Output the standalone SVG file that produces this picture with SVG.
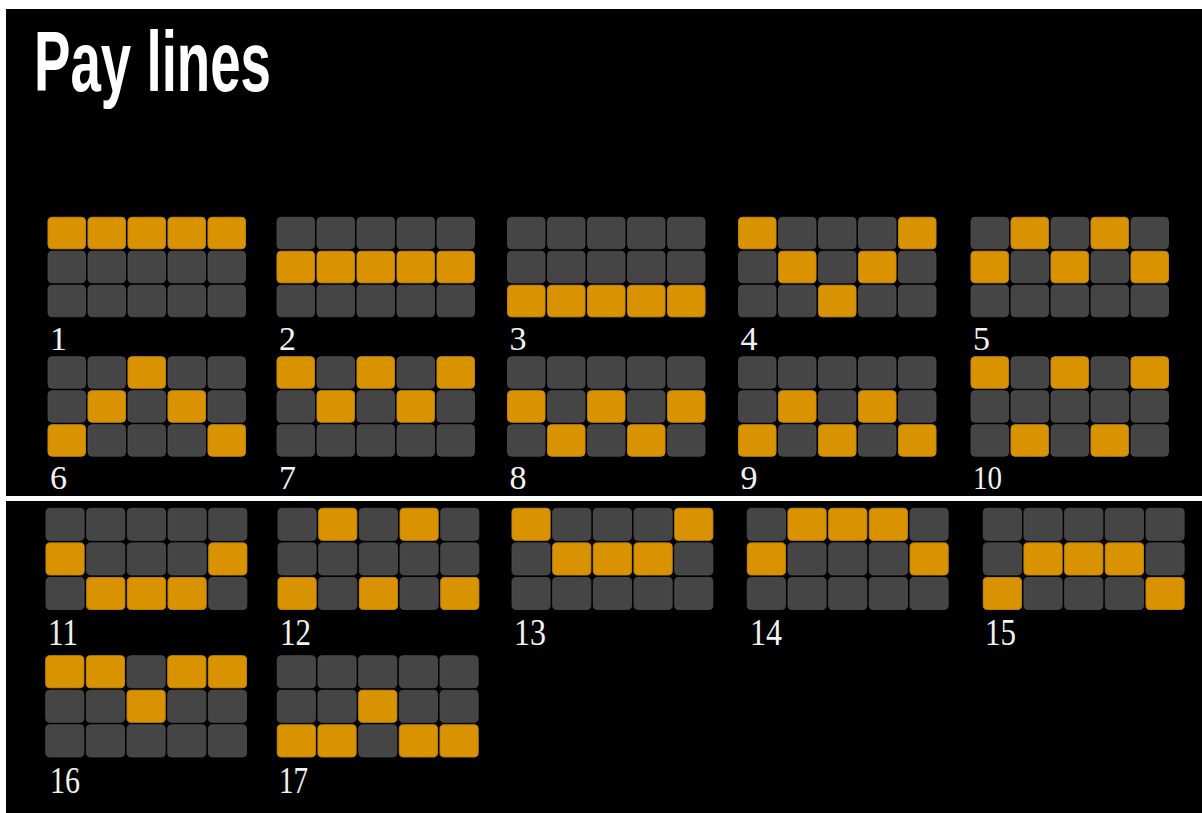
<svg xmlns="http://www.w3.org/2000/svg" xmlns:xlink="http://www.w3.org/1999/xlink" width="1202" height="813" viewBox="0 0 1202 813">
<style>
.g{fill:#454545;stroke:#4f4f4f;stroke-width:0.8}
.o{fill:#d99200;stroke:#c98500;stroke-width:0.8}
.lbl{font-family:"Liberation Serif",serif;fill:#f2f2f2;font-size:34px}
.lbl2{font-family:"Liberation Serif",serif;fill:#f2f2f2;font-size:37px}
.title{font-family:"Liberation Sans",sans-serif;font-weight:bold;fill:#ffffff;font-size:86px}
</style>
<defs>
<rect id="c" class="g" width="37.5" height="31.5" rx="4"/>
<rect id="o" class="o" width="37.5" height="31.5" rx="4"/>
<g id="grid">
<use href="#c" x="0" y="0"/><use href="#c" x="40" y="0"/><use href="#c" x="80" y="0"/><use href="#c" x="120" y="0"/><use href="#c" x="160" y="0"/>
<use href="#c" x="0" y="34"/><use href="#c" x="40" y="34"/><use href="#c" x="80" y="34"/><use href="#c" x="120" y="34"/><use href="#c" x="160" y="34"/>
<use href="#c" x="0" y="68"/><use href="#c" x="40" y="68"/><use href="#c" x="80" y="68"/><use href="#c" x="120" y="68"/><use href="#c" x="160" y="68"/>
</g>
</defs>
<rect x="0" y="0" width="1202" height="813" fill="#ffffff"/>
<rect x="6" y="9" width="1196" height="804" fill="#000000"/>
<text class="title" x="34" y="91" textLength="237" lengthAdjust="spacingAndGlyphs">Pay lines</text>

<g id="line1" transform="translate(48,217.3)"><use href="#grid"/>
<use href="#o" x="0" y="0"/><use href="#o" x="40" y="0"/><use href="#o" x="80" y="0"/><use href="#o" x="120" y="0"/><use href="#o" x="160" y="0"/></g>
<g id="line2" transform="translate(277,217.3)"><use href="#grid"/>
<use href="#o" x="0" y="34"/><use href="#o" x="40" y="34"/><use href="#o" x="80" y="34"/><use href="#o" x="120" y="34"/><use href="#o" x="160" y="34"/></g>
<g id="line3" transform="translate(507.5,217.3)"><use href="#grid"/>
<use href="#o" x="0" y="68"/><use href="#o" x="40" y="68"/><use href="#o" x="80" y="68"/><use href="#o" x="120" y="68"/><use href="#o" x="160" y="68"/></g>
<g id="line4" transform="translate(738.5,217.3)"><use href="#grid"/>
<use href="#o" x="0" y="0"/><use href="#o" x="40" y="34"/><use href="#o" x="80" y="68"/><use href="#o" x="120" y="34"/><use href="#o" x="160" y="0"/></g>
<g id="line5" transform="translate(971,217.3)"><use href="#grid"/>
<use href="#o" x="0" y="34"/><use href="#o" x="40" y="0"/><use href="#o" x="80" y="34"/><use href="#o" x="120" y="0"/><use href="#o" x="160" y="34"/></g>

<g id="line6" transform="translate(48,356.7)"><use href="#grid"/>
<use href="#o" x="0" y="68"/><use href="#o" x="40" y="34"/><use href="#o" x="80" y="0"/><use href="#o" x="120" y="34"/><use href="#o" x="160" y="68"/></g>
<g id="line7" transform="translate(277,356.7)"><use href="#grid"/>
<use href="#o" x="0" y="0"/><use href="#o" x="40" y="34"/><use href="#o" x="80" y="0"/><use href="#o" x="120" y="34"/><use href="#o" x="160" y="0"/></g>
<g id="line8" transform="translate(507.5,356.7)"><use href="#grid"/>
<use href="#o" x="0" y="34"/><use href="#o" x="40" y="68"/><use href="#o" x="80" y="34"/><use href="#o" x="120" y="68"/><use href="#o" x="160" y="34"/></g>
<g id="line9" transform="translate(738.5,356.7)"><use href="#grid"/>
<use href="#o" x="0" y="68"/><use href="#o" x="40" y="34"/><use href="#o" x="80" y="68"/><use href="#o" x="120" y="34"/><use href="#o" x="160" y="68"/></g>
<g id="line10" transform="translate(971,356.7)"><use href="#grid"/>
<use href="#o" x="0" y="0"/><use href="#o" x="40" y="68"/><use href="#o" x="80" y="0"/><use href="#o" x="120" y="68"/><use href="#o" x="160" y="0"/></g>

<g id="labels-top">
<text class="lbl" x="50" y="350">1</text>
<text class="lbl" x="279" y="350">2</text>
<text class="lbl" x="509.5" y="350">3</text>
<text class="lbl" x="740.5" y="350">4</text>
<text class="lbl" x="973" y="350">5</text>
<text class="lbl" x="50" y="489">6</text>
<text class="lbl" x="279" y="489">7</text>
<text class="lbl" x="509.5" y="489">8</text>
<text class="lbl" x="740.5" y="489">9</text>
<text class="lbl" x="973" y="489" textLength="29" lengthAdjust="spacingAndGlyphs">10</text>
</g>

<rect x="0" y="496" width="1202" height="5" fill="#ffffff"/>

<g id="line11" transform="translate(46,508.3) scale(1.017)"><use href="#grid"/>
<use href="#o" x="0" y="34"/><use href="#o" x="40" y="68"/><use href="#o" x="80" y="68"/><use href="#o" x="120" y="68"/><use href="#o" x="160" y="34"/></g>
<g id="line12" transform="translate(278,508.3) scale(1.017)"><use href="#grid"/>
<use href="#o" x="0" y="68"/><use href="#o" x="40" y="0"/><use href="#o" x="80" y="68"/><use href="#o" x="120" y="0"/><use href="#o" x="160" y="68"/></g>
<g id="line13" transform="translate(512,508.3) scale(1.017)"><use href="#grid"/>
<use href="#o" x="0" y="0"/><use href="#o" x="40" y="34"/><use href="#o" x="80" y="34"/><use href="#o" x="120" y="34"/><use href="#o" x="160" y="0"/></g>
<g id="line14" transform="translate(747.3,508.3) scale(1.017)"><use href="#grid"/>
<use href="#o" x="0" y="34"/><use href="#o" x="40" y="0"/><use href="#o" x="80" y="0"/><use href="#o" x="120" y="0"/><use href="#o" x="160" y="34"/></g>
<g id="line15" transform="translate(983.3,508.3) scale(1.017)"><use href="#grid"/>
<use href="#o" x="0" y="68"/><use href="#o" x="40" y="34"/><use href="#o" x="80" y="34"/><use href="#o" x="120" y="34"/><use href="#o" x="160" y="68"/></g>

<g id="line16" transform="translate(45.7,655.7) scale(1.017)"><use href="#grid"/>
<use href="#o" x="0" y="0"/><use href="#o" x="40" y="0"/><use href="#o" x="80" y="34"/><use href="#o" x="120" y="0"/><use href="#o" x="160" y="0"/></g>
<g id="line17" transform="translate(277.3,655.7) scale(1.017)"><use href="#grid"/>
<use href="#o" x="0" y="68"/><use href="#o" x="40" y="68"/><use href="#o" x="80" y="34"/><use href="#o" x="120" y="68"/><use href="#o" x="160" y="68"/></g>

<g id="labels-bottom">
<text class="lbl2" x="48" y="645" textLength="30" lengthAdjust="spacingAndGlyphs">11</text>
<text class="lbl2" x="280" y="645" textLength="31" lengthAdjust="spacingAndGlyphs">12</text>
<text class="lbl2" x="514" y="645" textLength="32" lengthAdjust="spacingAndGlyphs">13</text>
<text class="lbl2" x="750" y="645" textLength="32" lengthAdjust="spacingAndGlyphs">14</text>
<text class="lbl2" x="985" y="645" textLength="31" lengthAdjust="spacingAndGlyphs">15</text>
<text class="lbl2" x="50" y="793" textLength="30" lengthAdjust="spacingAndGlyphs">16</text>
<text class="lbl2" x="279" y="793" textLength="29" lengthAdjust="spacingAndGlyphs">17</text>
</g>
</svg>
